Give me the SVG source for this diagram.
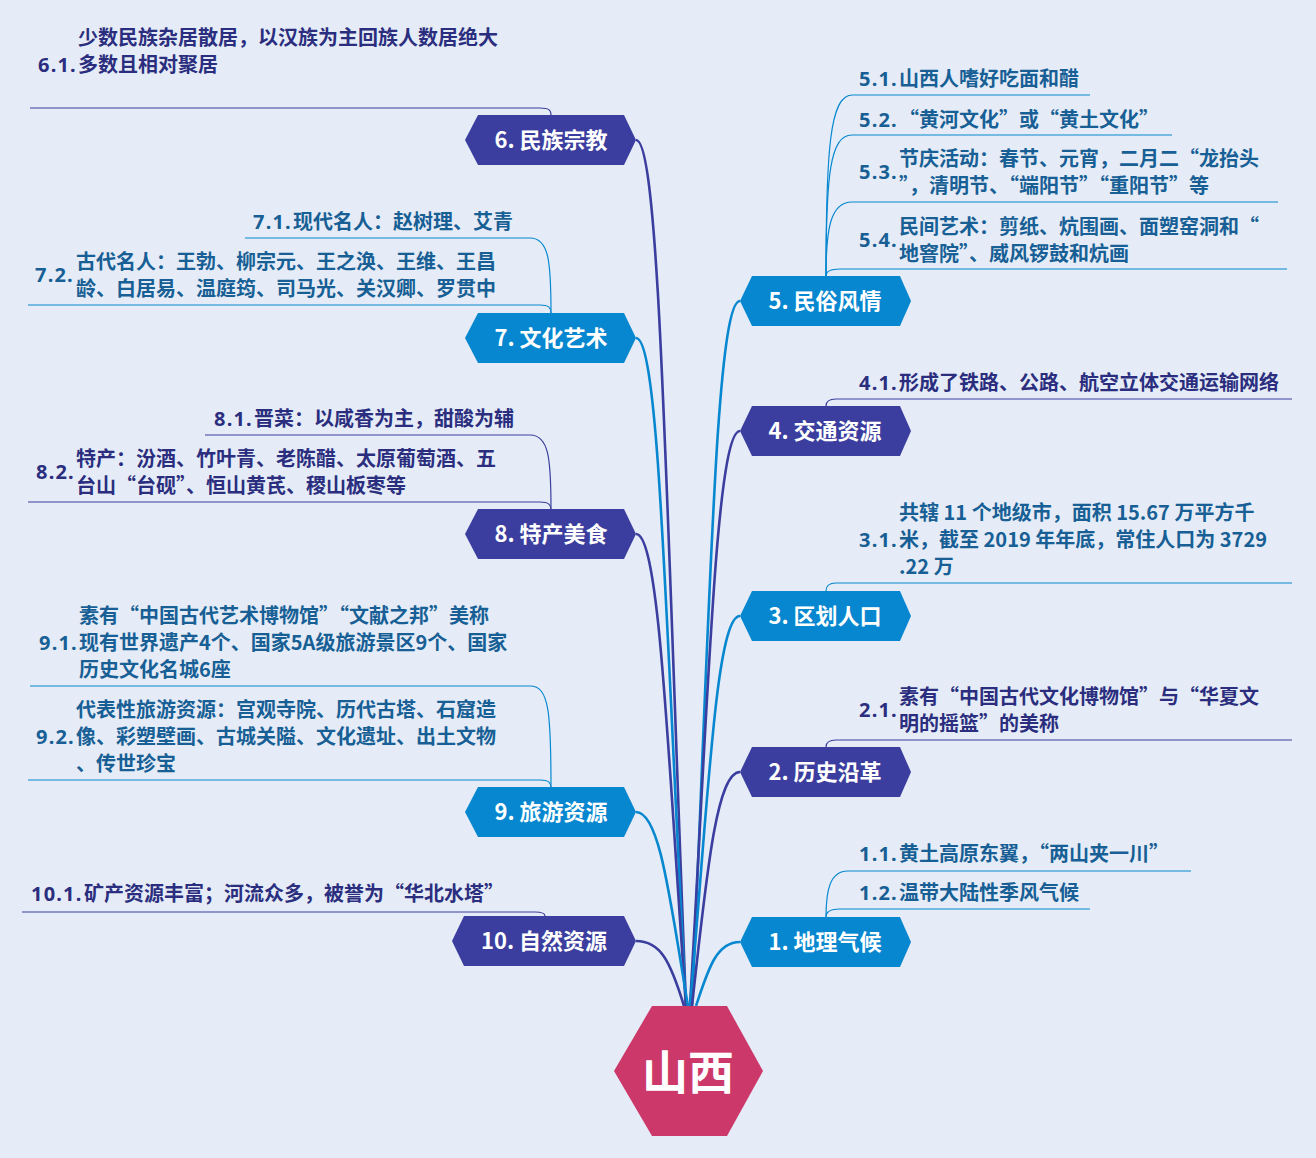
<svg xmlns="http://www.w3.org/2000/svg" width="1316" height="1158" viewBox="0 0 1316 1158">
<style>
.bg{fill:#E5ECF7}
.nb{fill:#0787CF}
.ni{fill:#3B3E9E}
.nt{fill:#FFFFFF;font-family:"Noto Sans CJK SC","Noto Sans",sans-serif;font-weight:700;font-size:22px;text-anchor:middle}
.cb{fill:none;stroke:#0787CF;stroke-width:2.6}
.ci{fill:none;stroke:#3B3E9E;stroke-width:2.6}
.lb{fill:none;stroke:#0787CF;stroke-width:1.2}
.li{fill:none;stroke:#3B3E9E;stroke-width:1.2}
.tb{fill:#175F95;font-family:"Noto Sans CJK SC","Noto Sans",sans-serif;font-weight:700;font-size:20px}
.ti{fill:#2B2E7E;font-family:"Noto Sans CJK SC","Noto Sans",sans-serif;font-weight:700;font-size:20px}
.k{font-weight:700;font-family:"Noto Sans","Noto Sans CJK SC",sans-serif;letter-spacing:1.2px}
</style>
<rect class="bg" x="0" y="0" width="1316" height="1158"/>

<g id="connectors">
  <path class="ci" d="M636,140 C660,140 666,500 686,1006"/>
  <path class="cb" d="M636,338 C660,338 666,640 686,1006"/>
  <path class="ci" d="M636,534 C660,534 668,760 686,1006"/>
  <path class="cb" d="M636,812 C660,812 670,900 688,1006"/>
  <path class="ci" d="M636,941 C660,941 670,960 684,1006"/>
  <path class="cb" d="M740,301 C716,301 710,600 692,1006"/>
  <path class="ci" d="M740,431 C716,431 708,700 690,1006"/>
  <path class="cb" d="M740,616 C716,616 708,800 690,1006"/>
  <path class="ci" d="M740,772 C716,772 706,880 692,1006"/>
  <path class="cb" d="M740,942 C716,942 708,970 696,1006"/>
  <path class="li" d="M551,115 C551,110 549,108 540,108 L30,108"/>
  <path class="lb" d="M551,313 C551,262 549,238 530,238 L245,238"/>
  <path class="lb" d="M551,313 C551,308 549,305 540,305 L28,305"/>
  <path class="li" d="M551,510 C551,459 549,435 530,435 L205,435"/>
  <path class="li" d="M551,510 C551,505 549,502 540,502 L28,502"/>
  <path class="lb" d="M551,788 C551,712 549,686 530,686 L30,686"/>
  <path class="lb" d="M551,788 C551,783 549,780 540,780 L28,780"/>
  <path class="li" d="M545,916 C545,914 543,912 535,912 L22,912"/>
  <path class="lb" d="M826,276 C826,150 830,95 852,95 L1090,95"/>
  <path class="lb" d="M826,276 C826,175 830,135 852,135 L1172,135"/>
  <path class="lb" d="M826,276 C826,230 830,202 852,202 L1278,202"/>
  <path class="lb" d="M826,276 C826,272 830,269 840,269 L1287,269"/>
  <path class="li" d="M826,406 C826,402 828,399 836,399 L1292,399"/>
  <path class="lb" d="M826,591 C826,587 828,583 836,583 L1292,583"/>
  <path class="li" d="M826,747 C826,743 828,740 836,740 L1292,740"/>
  <path class="lb" d="M826,917 C826,890 830,871 848,871 L1191,871"/>
  <path class="lb" d="M826,917 C826,912 830,909 840,909 L1090,909"/>
</g>

<g id="root">
  <polygon points="614,1071 652,1006 727,1006 763,1071 727,1136 652,1136" fill="#CD386A"/>
  <text x="688" y="1089" fill="#FFFFFF" font-family="Noto Sans CJK SC, sans-serif" font-weight="700" font-size="46" text-anchor="middle">山西</text>
</g>

<g id="n6"><polygon class="ni" points="465,140 478,115 624,115 636,140 624,165 478,165"/><text class="nt" x="551" y="148">6. 民族宗教</text></g>
<g id="n7"><polygon class="nb" points="465,338 478,313 624,313 636,338 624,363 478,363"/><text class="nt" x="551" y="346">7. 文化艺术</text></g>
<g id="n8"><polygon class="ni" points="465,534 478,509 624,509 636,534 624,559 478,559"/><text class="nt" x="551" y="542">8. 特产美食</text></g>
<g id="n9"><polygon class="nb" points="465,812 478,787 624,787 636,812 624,837 478,837"/><text class="nt" x="551" y="820">9. 旅游资源</text></g>
<g id="n10"><polygon class="ni" points="452,941 464,916 624,916 636,941 624,966 464,966"/><text class="nt" x="544" y="949">10. 自然资源</text></g>

<g id="n5"><polygon class="nb" points="740,301 752,276 900,276 911,301 900,326 752,326"/><text class="nt" x="825" y="309">5. 民俗风情</text></g>
<g id="n4"><polygon class="ni" points="740,431 752,406 900,406 911,431 900,456 752,456"/><text class="nt" x="825" y="439">4. 交通资源</text></g>
<g id="n3"><polygon class="nb" points="740,616 752,591 900,591 911,616 900,641 752,641"/><text class="nt" x="825" y="624">3. 区划人口</text></g>
<g id="n2"><polygon class="ni" points="740,772 752,747 900,747 911,772 900,797 752,797"/><text class="nt" x="825" y="780">2. 历史沿革</text></g>
<g id="n1"><polygon class="nb" points="740,942 752,917 900,917 911,942 900,967 752,967"/><text class="nt" x="825" y="950">1. 地理气候</text></g>

<g id="c6-1"><text class="ti k" x="38" y="72">6.1.</text><text class="ti" x="78" y="45">少数民族杂居散居，以汉族为主回族人数居绝大</text><text class="ti" x="78" y="72">多数且相对聚居</text></g>
<g id="c7-1"><text class="tb k" x="253" y="229">7.1.</text><text class="tb" x="293" y="229">现代名人：赵树理、艾青</text></g>
<g id="c7-2"><text class="tb k" x="35" y="282">7.2.</text><text class="tb" x="76" y="269">古代名人：王勃、柳宗元、王之涣、王维、王昌</text><text class="tb" x="76" y="296">龄、白居易、温庭筠、司马光、关汉卿、罗贯中</text></g>
<g id="c8-1"><text class="ti k" x="214" y="426">8.1.</text><text class="ti" x="254" y="426">晋菜：以咸香为主，甜酸为辅</text></g>
<g id="c8-2"><text class="ti k" x="36" y="479">8.2.</text><text class="ti" x="76" y="466">特产：汾酒、竹叶青、老陈醋、太原葡萄酒、五</text><text class="ti" x="76" y="493">台山“台砚”、恒山黄芪、稷山板枣等</text></g>
<g id="c9-1"><text class="tb k" x="39" y="650">9.1.</text><text class="tb" x="79" y="623">素有“中国古代艺术博物馆”“文献之邦”美称</text><text class="tb" x="79" y="650">现有世界遗产4个、国家5A级旅游景区9个、国家</text><text class="tb" x="79" y="677">历史文化名城6座</text></g>
<g id="c9-2"><text class="tb k" x="36" y="744">9.2.</text><text class="tb" x="76" y="717">代表性旅游资源：宫观寺院、历代古塔、石窟造</text><text class="tb" x="76" y="744">像、彩塑壁画、古城关隘、文化遗址、出土文物</text><text class="tb" x="76" y="771">、传世珍宝</text></g>
<g id="c10-1"><text class="ti k" x="31" y="901">10.1.</text><text class="ti" x="84" y="901">矿产资源丰富；河流众多，被誉为“华北水塔”</text></g>

<g id="c5-1"><text class="tb k" x="859" y="86">5.1.</text><text class="tb" x="899" y="86">山西人嗜好吃面和醋</text></g>
<g id="c5-2"><text class="tb k" x="859" y="127">5.2.</text><text class="tb" x="899" y="127">“黄河文化”或“黄土文化”</text></g>
<g id="c5-3"><text class="tb k" x="859" y="179">5.3.</text><text class="tb" x="899" y="166">节庆活动：春节、元宵，二月二“龙抬头</text><text class="tb" x="899" y="193">”，清明节、“端阳节”“重阳节”等</text></g>
<g id="c5-4"><text class="tb k" x="859" y="247">5.4.</text><text class="tb" x="899" y="234">民间艺术：剪纸、炕围画、面塑窑洞和“</text><text class="tb" x="899" y="261">地窨院”、威风锣鼓和炕画</text></g>
<g id="c4-1"><text class="ti k" x="859" y="390">4.1.</text><text class="ti" x="899" y="390">形成了铁路、公路、航空立体交通运输网络</text></g>
<g id="c3-1"><text class="tb k" x="859" y="547">3.1.</text><text class="tb" x="899" y="520">共辖 11 个地级市，面积 15.67 万平方千</text><text class="tb" x="899" y="547">米，截至 2019 年年底，常住人口为 3729</text><text class="tb" x="899" y="574">.22 万</text></g>
<g id="c2-1"><text class="ti k" x="859" y="717">2.1.</text><text class="ti" x="899" y="704">素有“中国古代文化博物馆”与“华夏文</text><text class="ti" x="899" y="731">明的摇篮”的美称</text></g>
<g id="c1-1"><text class="tb k" x="859" y="861">1.1.</text><text class="tb" x="899" y="861">黄土高原东翼，“两山夹一川”</text></g>
<g id="c1-2"><text class="tb k" x="859" y="900">1.2.</text><text class="tb" x="899" y="900">温带大陆性季风气候</text></g>
</svg>
